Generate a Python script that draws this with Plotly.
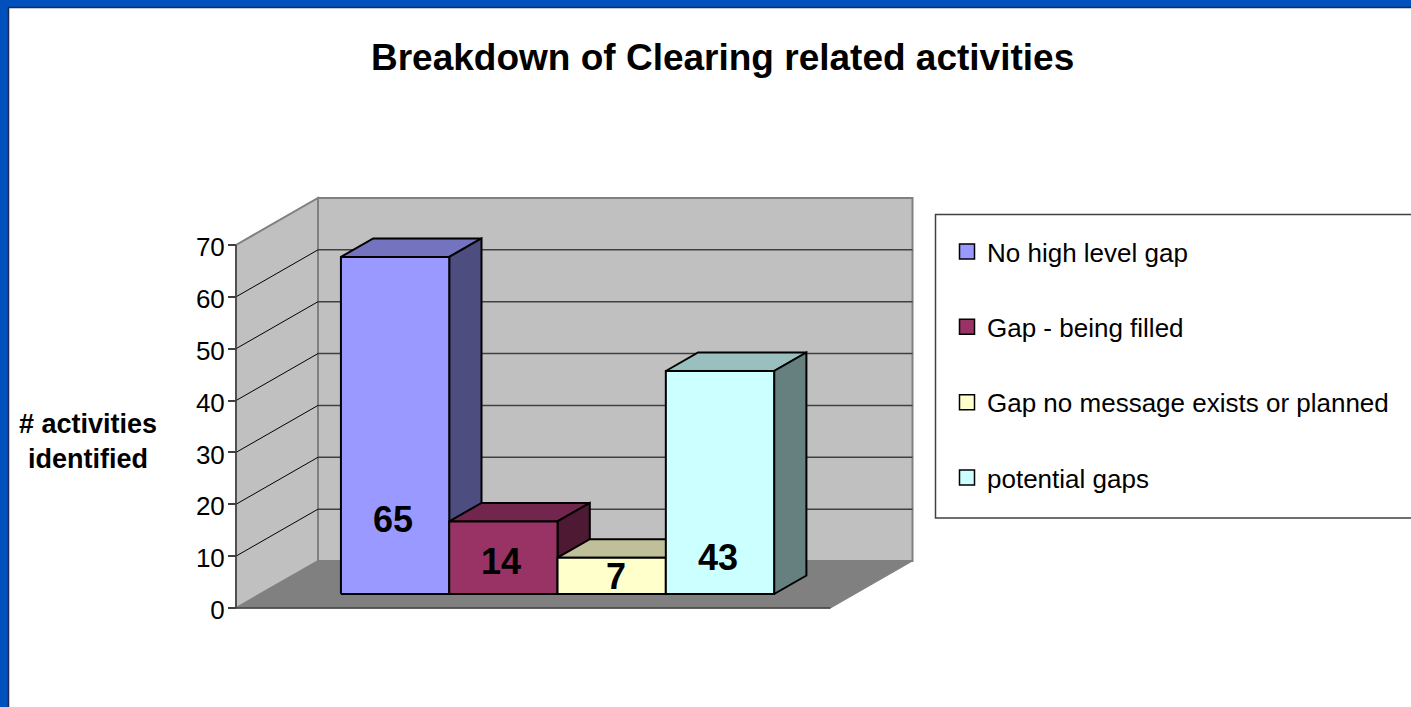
import plotly.graph_objects as go

categories = ["No high level gap", "Gap - being filled", "Gap no message exists or planned", "potential gaps"]
values = [65, 14, 7, 43]
label_heights = [14.3, 6.2, 3.3, 7]
label_shifts = [-2, -2, 4, -2]
front_colors = ["#9999FF", "#993366", "#FFFFCC", "#CCFFFF"]
top_colors = ["#7373BF", "#73264D", "#BFBF99", "#99BFBF"]
side_colors = ["#4D4D80", "#4D1933", "#808066", "#668080"]
tick_values = [0, 10, 20, 30, 40, 50, 60, 70]

W, H = 1411, 707
PX_PER_VALUE = 5.186
PX_PER_CAT = 108.3
ORIGIN_X, ORIGIN_Y = 236, 608
FLOOR_WIDTH = 594.5 / PX_PER_CAT
SHEAR_X = 82 / PX_PER_CAT
SHEAR_Y = 47 / PX_PER_VALUE
GAP = 80.5 / PX_PER_CAT
DEPTH_FRONT, DEPTH_BACK = 14 / 47, 32.5 / 47
VMAX = 70
FONT = "Liberation Sans"


def proj(x, v, d):
    return x + d * SHEAR_X, v + d * SHEAR_Y


def poly(points, fill, line="#000000", width=2):
    xy = [proj(*p) for p in points]
    xy.append(xy[0])
    return go.Scatter(
        x=[a for a, _ in xy], y=[b for _, b in xy], mode="lines", fill="toself",
        fillcolor=fill, line=dict(color=line, width=width), showlegend=False, hoverinfo="skip",
    )


def seg(points, color, width):
    xy = [proj(*p) for p in points]
    return go.Scatter(
        x=[a for a, _ in xy], y=[b for _, b in xy], mode="lines",
        line=dict(color=color, width=width), showlegend=False, hoverinfo="skip",
    )


traces = [
    poly([(0, 0, 0), (FLOOR_WIDTH, 0, 0), (FLOOR_WIDTH, 0, 1), (0, 0, 1)], "#808080", "#808080", 1),
    poly([(0, 0, 0), (0, 0, 1), (0, VMAX, 1), (0, VMAX, 0)], "#C0C0C0", "#808080", 2),
    poly([(0, 0, 1), (FLOOR_WIDTH, 0, 1), (FLOOR_WIDTH, VMAX, 1), (0, VMAX, 1)], "#C0C0C0", "#808080", 2),
]
for t in tick_values[1:-1]:
    traces.append(seg([(0, t, 0), (0, t, 1)], "#000000", 1))
    traces.append(seg([(0, t, 1), (FLOOR_WIDTH, t, 1)], "#404040", 1.5))
traces.append(seg([(0, 0, 0), (FLOOR_WIDTH, 0, 0)], "#404040", 1.5))
traces.append(seg([(0, 0, 0), (0, VMAX, 0)], "#404040", 1.5))

for i, v in enumerate(values):
    x0 = GAP + i
    x1 = x0 + 1
    df, db = DEPTH_FRONT, DEPTH_BACK
    traces.append(poly([(x0, v, df), (x1, v, df), (x1, v, db), (x0, v, db)], top_colors[i]))
    traces.append(poly([(x1, 0, df), (x1, 0, db), (x1, v, db), (x1, v, df)], side_colors[i]))
    traces.append(poly([(x0, 0, df), (x1, 0, df), (x1, v, df), (x0, v, df)], front_colors[i]))

for i, name in enumerate(categories):
    traces.append(go.Scatter(
        x=[None], y=[None], mode="markers", name=name, legendgroup=name,
        marker=dict(symbol="square", size=15, color=front_colors[i], line=dict(color="#000000", width=1.5)),
    ))

annotations = [
    dict(x=proj(GAP + i + 0.5, label_heights[i], DEPTH_FRONT)[0],
         y=proj(GAP + i + 0.5, label_heights[i], DEPTH_FRONT)[1],
         xanchor="center", yanchor="middle", xshift=label_shifts[i],
         text=f"<b>{v}</b>", showarrow=False, font=dict(family=FONT, size=36, color="#000000"))
    for i, v in enumerate(values)
]
annotations.append(dict(xref="paper", yref="paper", x=723 / W, y=1 - 57 / H,
                        xanchor="center", yanchor="middle",
                        text="<b>Breakdown of Clearing related activities</b>", showarrow=False,
                        font=dict(family=FONT, size=37, color="#000000")))
annotations.append(dict(xref="paper", yref="paper", x=88 / W, y=1 - 441 / H,
                        xanchor="center", yanchor="middle",
                        text="<b># activities<br>identified</b>", showarrow=False,
                        font=dict(family=FONT, size=27, color="#000000")))

shapes = [
    dict(type="rect", xref="paper", yref="paper", x0=8.5 / W, x1=1.02, y0=-0.02, y1=1 - 7.5 / H,
         fillcolor="#FFFFFF", line=dict(color="#1A2A50", width=1.5), layer="below"),
    dict(type="rect", xref="paper", yref="paper", x0=935.5 / W, x1=1.02, y0=1 - 518 / H, y1=1 - 214.5 / H,
         fillcolor="#FFFFFF", line=dict(color="#404040", width=1.5), layer="below"),
]

fig = go.Figure(traces)
fig.update_layout(
    width=W, height=H, margin=dict(l=0, r=0, t=0, b=0),
    paper_bgcolor="#0050BE", plot_bgcolor="#0050BE",
    font=dict(family=FONT, color="#000000"),
    xaxis=dict(visible=False, range=[-ORIGIN_X / PX_PER_CAT, (W - ORIGIN_X) / PX_PER_CAT]),
    yaxis=dict(range=[-(H - ORIGIN_Y) / PX_PER_VALUE, ORIGIN_Y / PX_PER_VALUE],
               anchor="free", position=ORIGIN_X / W, tickmode="array", tickvals=tick_values,
               ticks="outside", ticklen=8, tickwidth=1.5, tickcolor="#404040",
               showgrid=False, zeroline=False, showline=False,
               ticklabelstandoff=-2, ticklabelshift=2,
               tickfont=dict(family=FONT, size=26, color="#000000")),
    legend=dict(x=947 / W, y=1 - 228 / H, xanchor="left", yanchor="top", bgcolor="rgba(0,0,0,0)",
                borderwidth=0, tracegroupgap=38.6, font=dict(family=FONT, size=26, color="#000000")),
    annotations=annotations, shapes=shapes,
)
fig.write_html("out.html", config={"displayModeBar": False},
               post_script="document.body.style.margin='0';document.body.style.overflow='hidden';")
